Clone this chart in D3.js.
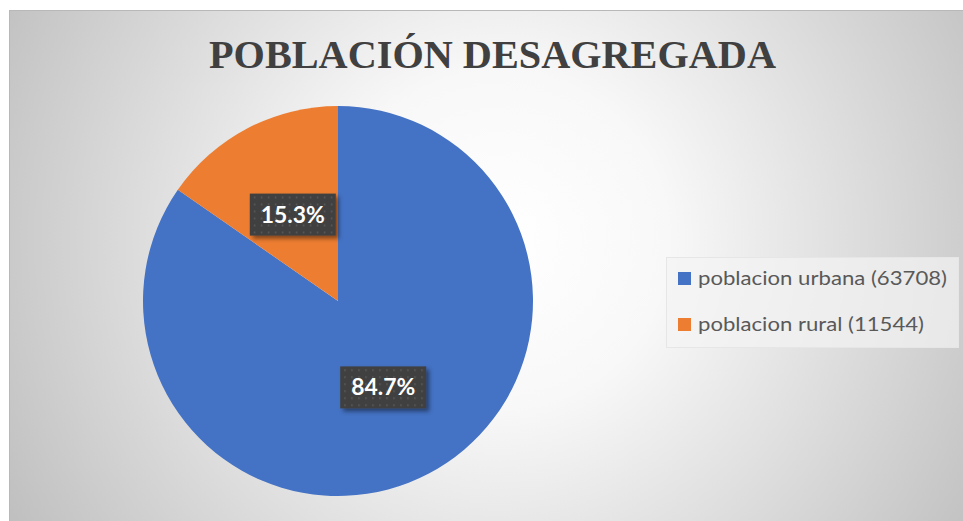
<!DOCTYPE html>
<html><head><meta charset="utf-8">
<script src="https://cdn.jsdelivr.net/npm/d3@7"></script>
<style>html,body{margin:0;padding:0;background:#fff;overflow:hidden}</style>
</head><body>
<svg id="chart" width="963" height="521"></svg>
<script>
const title = "POBLACIÓN DESAGREGADA";
const categories = ["poblacion urbana", "poblacion rural"];
const values = [63708, 11544];
const colors = ["#4472C4", "#ED7D31"];

const W = 963, H = 521;
const svg = d3.select("#chart");
const defs = svg.append("defs");

const grad = defs.append("radialGradient").attr("id", "bg")
  .attr("gradientUnits", "userSpaceOnUse")
  .attr("cx", 500).attr("cy", 240).attr("r", 560);
grad.append("stop").attr("offset", 0).attr("stop-color", "#ffffff");
grad.append("stop").attr("offset", 0.3).attr("stop-color", "#f8f8f8");
grad.append("stop").attr("offset", 1).attr("stop-color", "#c0c0c0");

const pat = defs.append("pattern").attr("id", "dots")
  .attr("patternUnits", "userSpaceOnUse").attr("width", 7).attr("height", 7);
pat.append("rect").attr("width", 7).attr("height", 7).attr("fill", "#404040");
pat.append("rect").attr("x", 3).attr("y", 3).attr("width", 1.5).attr("height", 1.5).attr("fill", "#5e5e5e");

const sh = defs.append("filter").attr("id", "shadow")
  .attr("x", "-20%").attr("y", "-30%").attr("width", "150%").attr("height", "170%");
sh.append("feDropShadow").attr("dx", 3).attr("dy", 3).attr("stdDeviation", 2)
  .attr("flood-color", "#000").attr("flood-opacity", 0.45);

svg.append("rect").attr("x", 9.5).attr("y", 10.5).attr("width", 960).attr("height", 520)
  .attr("fill", "url(#bg)").attr("stroke", "#b8b8b8").attr("stroke-width", 1);

// Title
const t = svg.append("text").text(title)
  .attr("font-family", "'Liberation Serif','Times New Roman',serif")
  .attr("font-weight", "bold").attr("fill", "#404040")
  .attr("text-anchor", "middle").attr("x", 492.5).attr("y", 68)
  .attr("font-size", 100);
const tw = t.node().getComputedTextLength();
t.attr("font-size", 100 * 567 / tw);

// Pie
const cx = 338, cy = 301, R = 195;
const total = d3.sum(values);
const pie = d3.pie().sort(null).value(d => d)(values);
const arc = d3.arc().innerRadius(0).outerRadius(R);
const labelArc = d3.arc().innerRadius(R * 0.5).outerRadius(R * 0.5);
const g = svg.append("g").attr("transform", `translate(${cx},${cy})`);
g.selectAll("path").data(pie).join("path")
  .attr("d", arc).attr("fill", (d, i) => colors[i]);

const fmt = d => (d / total * 100).toFixed(1) + "%";
pie.forEach((d, i) => {
  const [lx, ly] = labelArc.centroid(d);
  const lg = g.append("g").attr("transform", `translate(${lx},${ly})`);
  const bw = 86, bh = 42;
  lg.append("rect").attr("fill", "url(#dots)").attr("filter", "url(#shadow)")
    .attr("x", -bw / 2).attr("y", -bh / 2).attr("width", bw).attr("height", bh);
  lg.append("text").text(fmt(values[i]))
    .attr("font-family", "Lato,'Open Sans',sans-serif").attr("font-weight", "bold")
    .attr("fill", "#fff").attr("text-anchor", "middle").attr("y", 8)
    .attr("font-size", 22.5).attr("textLength", 64).attr("lengthAdjust", "spacingAndGlyphs");
});

// Legend
const lgX = 666, lgY = 257;
svg.append("rect").attr("x", lgX + 0.5).attr("y", lgY + 0.5).attr("width", 292).attr("height", 90)
  .attr("fill", "#f4f4f4").attr("fill-opacity", 0.7).attr("stroke", "#e6e6e6");
const legendTexts = categories.map((c, i) => `${c} (${values[i]})`);
const legendWidths = [249, 226];
const leg = svg.append("g");
legendTexts.forEach((s, i) => {
  const y = 279 + i * 46;
  leg.append("rect").attr("x", 678).attr("y", y - 7).attr("width", 13).attr("height", 13).attr("fill", colors[i]);
  leg.append("text").text(s).attr("x", 698).attr("y", y + 6)
    .attr("font-family", "Lato,'Open Sans',sans-serif").attr("fill", "#595959")
    .attr("font-size", 19.5).attr("textLength", legendWidths[i]).attr("lengthAdjust", "spacingAndGlyphs");
});
</script>
</body></html>
